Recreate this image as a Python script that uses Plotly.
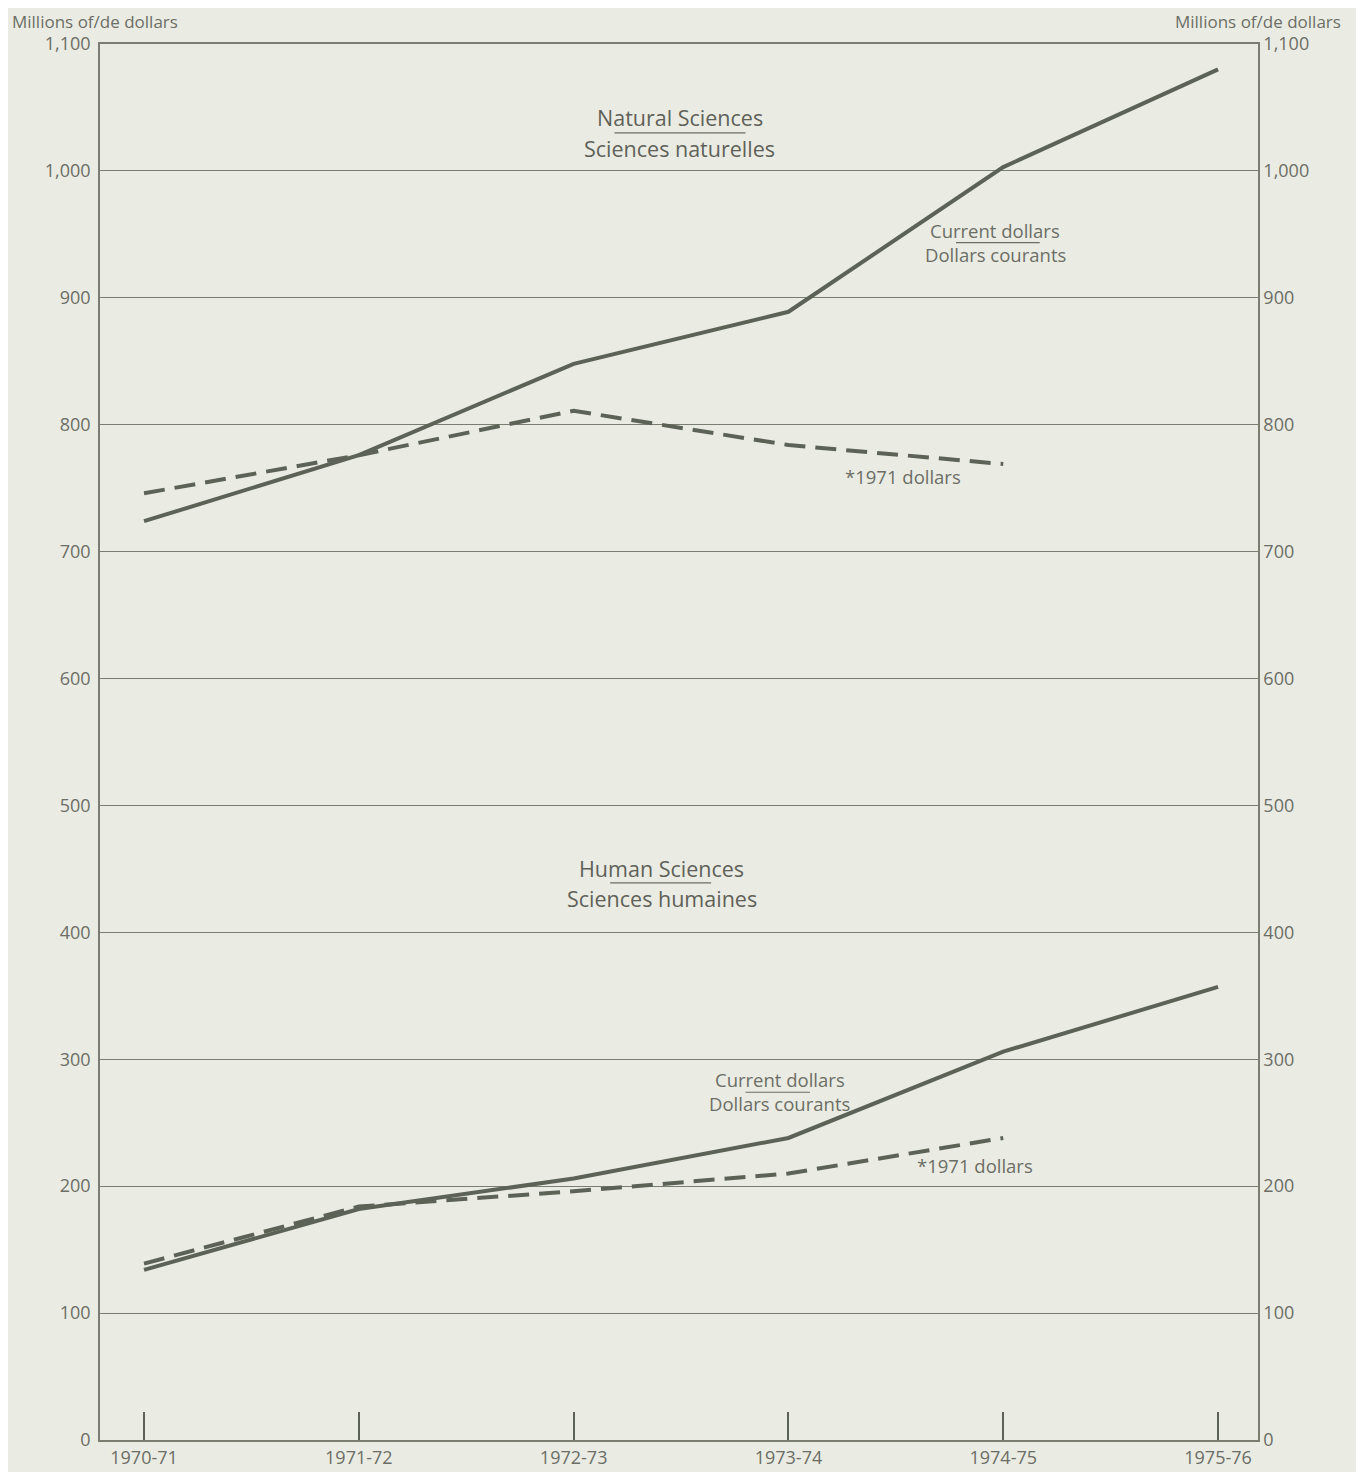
import plotly.graph_objects as go

years = ["1970-71", "1971-72", "1972-73", "1973-74", "1974-75", "1975-76"]
nat_current = [724, 776, 848, 889, 1003, 1080]
nat_1971 = [746, 776, 811, 784, 769]
hum_current = [134, 182, 206, 238, 306, 357]
hum_1971 = [139, 184, 196, 210, 238]
y_ticks = list(range(0, 1101, 100))
y_labels = [f"{v:,}" for v in y_ticks]

LINE = "#5d6257"
TXT = "#6c6e66"
GRID = "#7a7e70"
BG = "#eaece3"
FONT = "Open Sans"

xi = list(range(len(years)))

fig = go.Figure()
fig.add_trace(go.Scatter(x=xi, y=nat_current, mode="lines",
                         line=dict(color=LINE, width=4), showlegend=False))
fig.add_trace(go.Scatter(x=xi[:len(nat_1971)], y=nat_1971, mode="lines",
                         line=dict(color=LINE, width=4, dash="21px,10px"), showlegend=False))
fig.add_trace(go.Scatter(x=xi, y=hum_current, mode="lines",
                         line=dict(color=LINE, width=4), showlegend=False))
fig.add_trace(go.Scatter(x=xi[:len(hum_1971)], y=hum_1971, mode="lines",
                         line=dict(color=LINE, width=4, dash="21px,10px"), showlegend=False))
# invisible trace to activate the right axis
fig.add_trace(go.Scatter(x=[xi[0]], y=[0], yaxis="y2", mode="markers",
                         marker=dict(opacity=0), showlegend=False, hoverinfo="skip"))

T = 36
PH = 1464 - T - 32
fig.update_layout(
    width=1356, height=1464,
    margin=dict(l=92, r=106, t=T, b=32, autoexpand=False),
    paper_bgcolor=BG, plot_bgcolor=BG,
    font=dict(family=FONT, color=TXT, size=18),
    xaxis=dict(range=[-0.205, 5.186], tickvals=xi, ticktext=years,
               ticks="inside", ticklen=28, tickwidth=1.5, tickcolor=LINE,
               showgrid=False, zeroline=False, showline=True, linecolor=GRID,
               linewidth=2, mirror=True, automargin=False,
               tickfont=dict(size=18, color=TXT)),
    yaxis=dict(range=[0, 1100], tickvals=y_ticks, ticktext=y_labels,
               showgrid=True, gridcolor=GRID, gridwidth=1, zeroline=False,
               showline=True, linecolor=GRID, linewidth=1.5, automargin=False,
               ticks="", ticklabelstandoff=4, tickfont=dict(size=18, color=TXT)),
    yaxis2=dict(range=[0, 1100], tickvals=y_ticks, ticktext=y_labels,
                overlaying="y", side="right", showgrid=False, zeroline=False,
                showline=True, linecolor=GRID, linewidth=1.5, automargin=False,
                ticks="", tickfont=dict(size=18, color=TXT)),
)

def txt(x, y, s, size=18.5, color=TXT):
    fig.add_annotation(x=x, y=y, text=s, showarrow=False, xref="x", yref="y",
                       xanchor="center", yanchor="middle",
                       font=dict(size=size, color=color, family=FONT))

def uline(x0, x1, y):
    fig.add_shape(type="line", x0=x0, x1=x1, y0=y, y1=y, xref="x", yref="y",
                  line=dict(color=TXT, width=1.2))

# axis unit labels
fig.add_annotation(x=-90 / 1158, y=1 + T / PH, xref="paper", yref="paper",
                   text="Millions of/de dollars", showarrow=False, xanchor="left",
                   yanchor="top", font=dict(size=17, color=TXT, family=FONT))
fig.add_annotation(x=1 + 85 / 1158, y=1 + T / PH, xref="paper", yref="paper",
                   text="Millions of/de dollars", showarrow=False, xanchor="right",
                   yanchor="top", font=dict(size=17, color=TXT, family=FONT))

TITLE = "#5f6159"
# Natural sciences block
txt(2.495, 1042, "Natural Sciences", size=21.5, color=TITLE)
uline(2.19, 2.80, 1030)
txt(2.495, 1018, "Sciences naturelles", size=21.5, color=TITLE)
txt(3.962, 953, "Current dollars")
uline(3.78, 4.17, 943.5)
txt(3.962, 934, "Dollars courants")
txt(3.533, 759, "*1971 dollars")

# Human sciences block
txt(2.41, 450, "Human Sciences", size=21.5, color=TITLE)
uline(2.17, 2.64, 439)
txt(2.41, 427, "Sciences humaines", size=21.5, color=TITLE)
txt(2.96, 284, "Current dollars")
uline(2.80, 3.10, 274)
txt(2.96, 265.5, "Dollars courants")
txt(3.869, 216, "*1971 dollars")

fig.write_html("out.html")
